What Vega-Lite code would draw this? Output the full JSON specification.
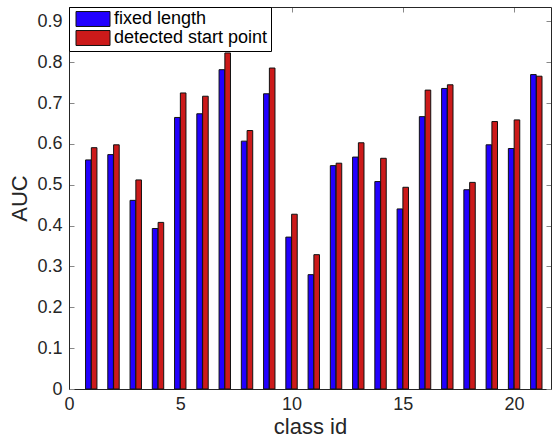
{
  "$schema": "https://vega.github.io/schema/vega-lite/v6.json",
  "width": 482,
  "height": 382,
  "autosize": "none",
  "padding": {"left": 69, "top": 7, "right": 1, "bottom": 51},
  "background": "white",
  "data": {
    "values": [
      {"class": 1, "fixed": 0.561, "detected": 0.591},
      {"class": 2, "fixed": 0.574, "detected": 0.598},
      {"class": 3, "fixed": 0.462, "detected": 0.512},
      {"class": 4, "fixed": 0.393, "detected": 0.408},
      {"class": 5, "fixed": 0.665, "detected": 0.725},
      {"class": 6, "fixed": 0.674, "detected": 0.717},
      {"class": 7, "fixed": 0.782, "detected": 0.823},
      {"class": 8, "fixed": 0.607, "detected": 0.633},
      {"class": 9, "fixed": 0.723, "detected": 0.786},
      {"class": 10, "fixed": 0.372, "detected": 0.428},
      {"class": 11, "fixed": 0.280, "detected": 0.329},
      {"class": 12, "fixed": 0.547, "detected": 0.553},
      {"class": 13, "fixed": 0.568, "detected": 0.603},
      {"class": 14, "fixed": 0.508, "detected": 0.565},
      {"class": 15, "fixed": 0.441, "detected": 0.494},
      {"class": 16, "fixed": 0.667, "detected": 0.732},
      {"class": 17, "fixed": 0.736, "detected": 0.745},
      {"class": 18, "fixed": 0.488, "detected": 0.506},
      {"class": 19, "fixed": 0.598, "detected": 0.655},
      {"class": 20, "fixed": 0.589, "detected": 0.659},
      {"class": 21, "fixed": 0.770, "detected": 0.766}
    ]
  },
  "config": {
    "view": {"stroke": null},
    "font": "Liberation Sans",
    "axis": {
      "domainColor": "#262626",
      "domainWidth": 1,
      "tickColor": "#888888",
      "tickWidth": 1,
      "tickSize": -5,
      "grid": false,
      "labelColor": "#262626",
      "titleColor": "#262626",
      "labelFont": "Liberation Sans",
      "titleFont": "Liberation Sans",
      "titleFontWeight": "normal"
    },
    "legend": {
      "labelFont": "Liberation Sans",
      "labelFontSize": 18,
      "labelColor": "#000000"
    }
  },
  "layer": [
    {
      "mark": {"type": "bar", "width": 5.6, "xOffset": -2.9, "stroke": "#111111", "strokeWidth": 1},
      "encoding": {
        "x": {
          "field": "class", "type": "quantitative",
          "scale": {"domain": [0, 21.66], "nice": false, "zero": false, "padding": 0},
          "axis": {"orient": "bottom", "values": [0, 5, 10, 15, 20], "title": "class id",
                   "labelFontSize": 18, "titleFontSize": 22, "labelPadding": 11, "titlePadding": 3, "labelFlush": false}
        },
        "y": {
          "field": "fixed", "type": "quantitative",
          "scale": {"domain": [0, 0.9355], "nice": false, "padding": 0},
          "axis": {"orient": "left", "values": [0, 0.1, 0.2, 0.3, 0.4, 0.5, 0.6, 0.7, 0.8, 0.9], "format": ".1~f",
                   "title": "AUC", "labelFontSize": 18, "titleFontSize": 22, "labelPadding": 12, "titlePadding": 5}
        },
        "color": {
          "datum": "fixed length", "type": "nominal",
          "scale": {"domain": ["fixed length", "detected start point"], "range": ["#2200ff", "#cc1a1a"]},
          "legend": {
            "title": null,
            "orient": "top-left",
            "offset": 0,
            "strokeColor": "#000000",
            "fillColor": "#ffffff",
            "padding": 3,
            "rowPadding": -2,
            "symbolType": "M-2,-0.88H2V0.88H-2Z",
            "symbolSize": 289,
            "symbolOffset": 12,
            "symbolStrokeColor": "#000000",
            "symbolStrokeWidth": 1,
            "symbolOpacity": 1,
            "labelOffset": 12
          }
        }
      }
    },
    {
      "mark": {"type": "bar", "width": 5.6, "xOffset": 2.9, "stroke": "#111111", "strokeWidth": 1},
      "encoding": {
        "x": {
          "field": "class", "type": "quantitative",
          "scale": {"domain": [0, 21.66], "nice": false, "zero": false, "padding": 0},
          "axis": {"orient": "top", "values": [0, 5, 10, 15, 20], "labels": false, "title": null}
        },
        "y": {
          "field": "detected", "type": "quantitative",
          "scale": {"domain": [0, 0.9355], "nice": false, "padding": 0},
          "axis": {"orient": "right", "values": [0, 0.1, 0.2, 0.3, 0.4, 0.5, 0.6, 0.7, 0.8, 0.9], "labels": false, "title": null}
        },
        "color": {"datum": "detected start point", "type": "nominal"}
      }
    }
  ],
  "resolve": {"axis": {"x": "independent", "y": "independent"}}
}
